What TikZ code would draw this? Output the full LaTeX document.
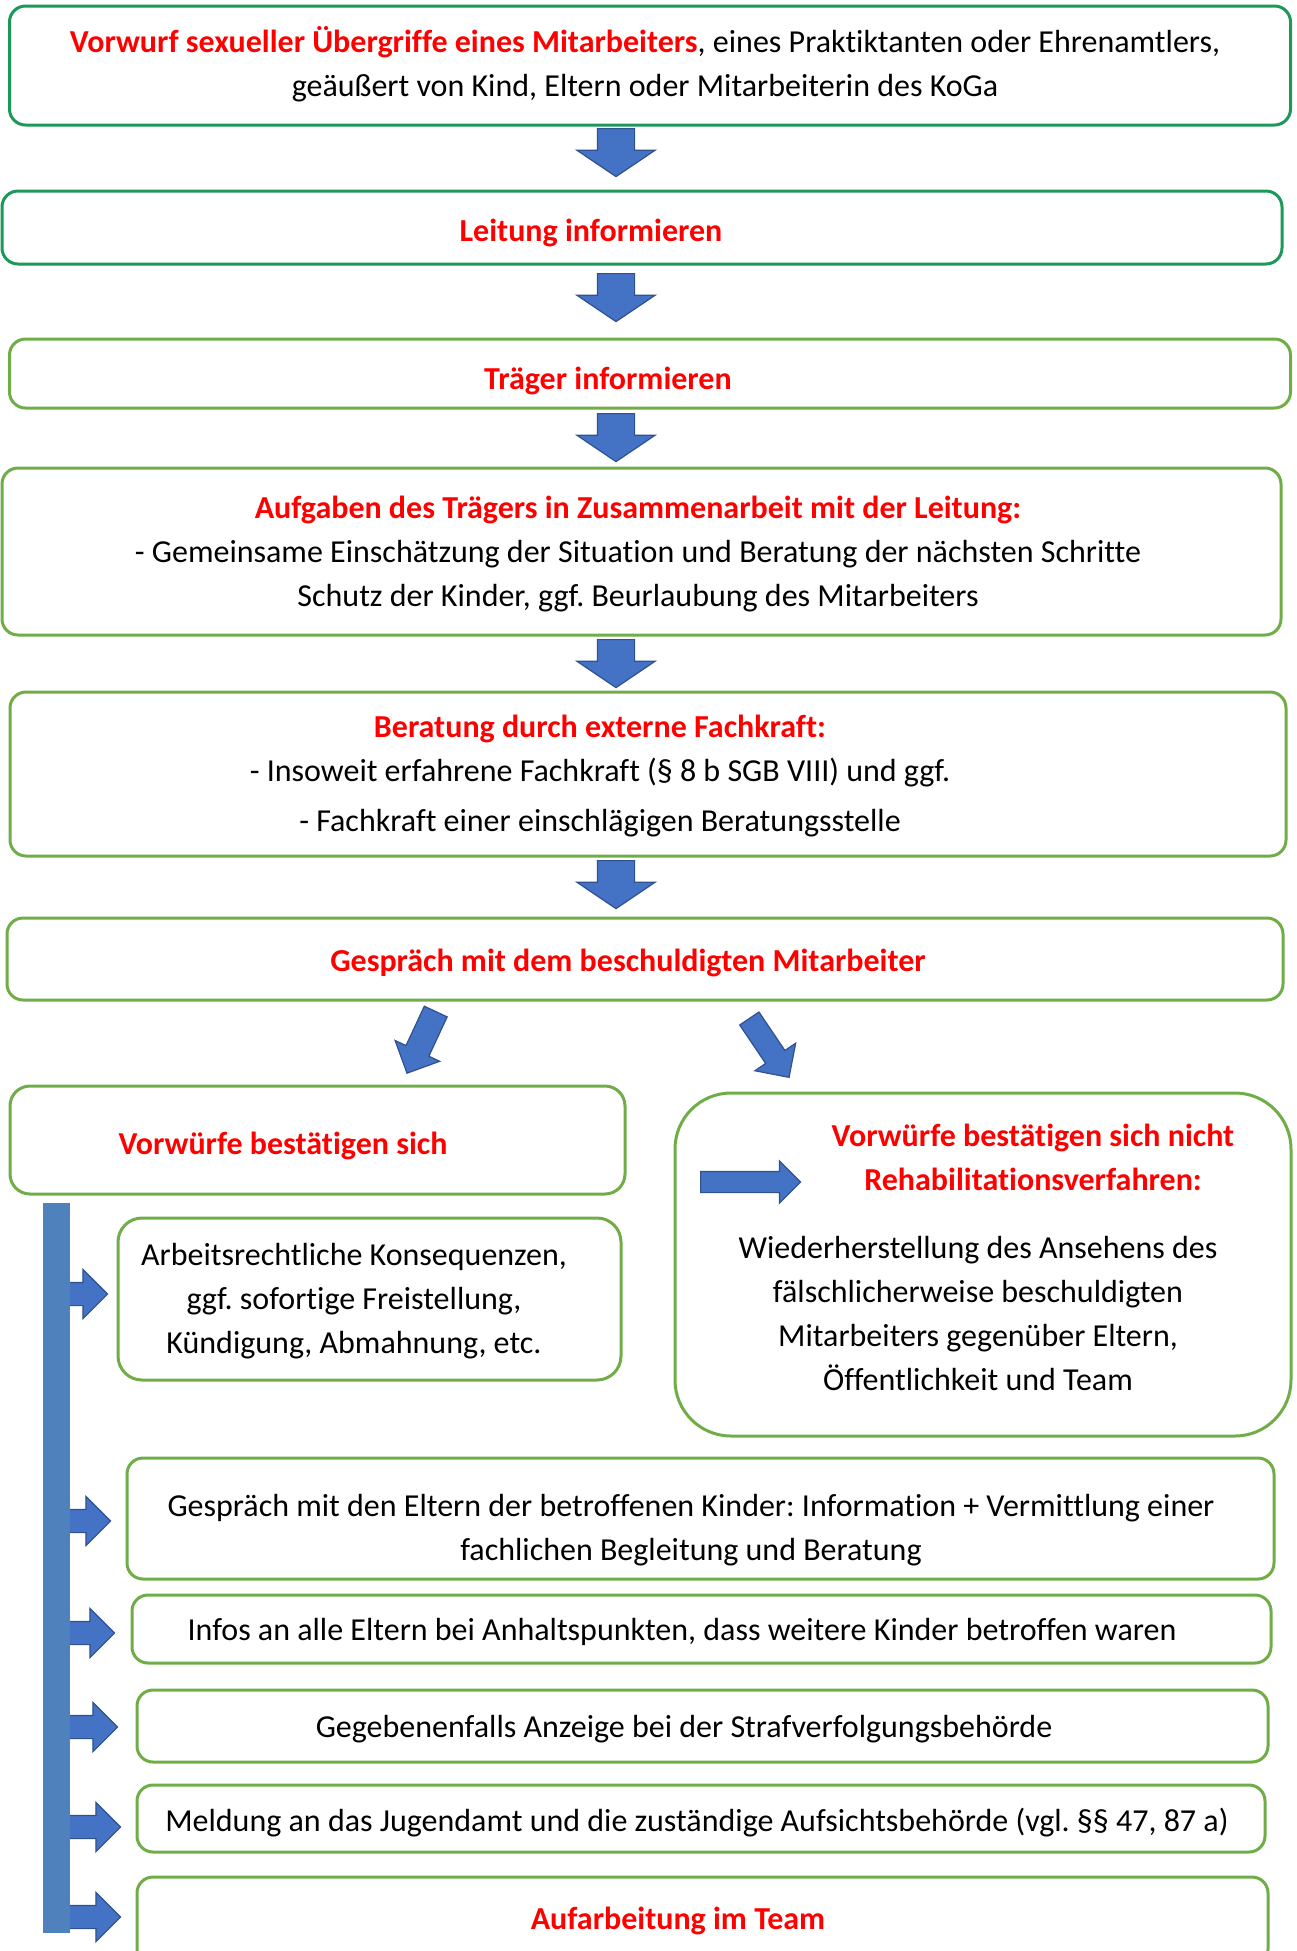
\documentclass[tikz,border=0pt]{standalone}
\usepackage{fontspec}
\setmainfont{Carlito}[Ligatures=NoCommon]
\usepackage{xcolor}
\usetikzlibrary{shapes.arrows}
\frenchspacing

\definecolor{boxteal}{RGB}{28,152,88}
\definecolor{boxgreen}{RGB}{112,173,71}
\definecolor{arrowblue}{RGB}{68,114,196}
\definecolor{arrowedge}{RGB}{47,82,143}
\definecolor{barblue}{RGB}{79,129,189}
\definecolor{headred}{RGB}{255,0,0}
\newcommand{\redtext}[1]{\textcolor{headred}{\textbf{#1}}}

\begin{document}
\begin{tikzpicture}[x=0.5pt, y=-0.5pt]
            \tikzstyle{Box} = [draw=boxgreen, line width=1.5pt, rounded corners=8pt, inner sep=0pt]
            \tikzstyle{Top Box} = [Box, draw=boxteal]
            \tikzstyle{Text} = [align=center, inner sep=0pt, yshift=-2.5pt, font=\fontsize{16}{22}\selectfont]
            \tikzstyle{Block Arrow} = [single arrow, draw=arrowedge, fill=arrowblue, line width=0.6pt, inner xsep=0pt, anchor=tail]
            \tikzstyle{Down Arrow} = [Block Arrow, inner ysep=9pt, minimum height=24pt, single arrow head extend=10.25pt, single arrow tip angle=112, rotate=-90]
            \tikzstyle{Side Arrow} = [Block Arrow, inner ysep=5.5pt, single arrow head extend=6.5pt, single arrow tip angle=90, minimum height=#1]
            \useasboundingbox (0,0) rectangle (1297,1951);
            \fill[white] (0,0) rectangle (1297,1951);
            % main column
            \node[Top Box, minimum width=640.5pt, minimum height=59.5pt] (vorwurf) at (650,65.5) {};
            \node[Text] (vorwurf text) at (645,59) {\redtext{Vorwurf sexueller Übergriffe eines Mitarbeiters}, eines Praktiktanten oder Ehrenamtlers,\\ geäußert von Kind, Eltern oder Mitarbeiterin des KoGa};
            \node[Top Box, minimum width=640pt, minimum height=36.5pt] (leitung) at (642,227.5) {};
            \node[Text] (leitung text) at (591,228) {\redtext{Leitung informieren}};
            \node[Box, minimum width=640.5pt, minimum height=34.5pt] (traeger) at (650,373.5) {};
            \node[Text] (traeger text) at (608,376) {\redtext{Träger informieren}};
            \node[Box, minimum width=639.5pt, minimum height=83.5pt] (aufgaben) at (641.5,551.5) {};
            \node[Text] (aufgaben text) at (638,549) {\redtext{Aufgaben des Trägers in Zusammenarbeit mit der Leitung:}\\ - Gemeinsame Einschätzung der Situation und Beratung der nächsten Schritte\\ Schutz der Kinder, ggf. Beurlaubung des Mitarbeiters};
            \node[Box, minimum width=638pt, minimum height=82pt] (beratung) at (648,774) {};
            \node[Text] (beratung text) at (600,771) {\redtext{Beratung durch externe Fachkraft:}\\ - Insoweit erfahrene Fachkraft (§ 8 b SGB VIII) und ggf.\\[3pt] - Fachkraft einer einschlägigen Beratungsstelle};
            \node[Box, minimum width=638pt, minimum height=41pt] (gespraech) at (645,959) {};
            \node[Text] (gespraech text) at (628,958) {\redtext{Gespräch mit dem beschuldigten Mitarbeiter}};
            \node[Down Arrow] (a1) at (616,128) {};
            \node[Down Arrow] (a2) at (616,273) {};
            \node[Down Arrow] (a3) at (616,413) {};
            \node[Down Arrow] (a4) at (616,639) {};
            \node[Down Arrow] (a5) at (616,860) {};
            % split
            \node[Block Arrow, inner ysep=6pt, minimum height=34pt, single arrow head extend=6pt, single arrow tip angle=90, rotate=245] (ja) at (436,1011) {};
            \node[Block Arrow, inner ysep=5.5pt, minimum height=35.5pt, single arrow head extend=6.5pt, single arrow tip angle=90, rotate=304] (nein) at (749,1018) {};
            \node[Box, rounded corners=10pt, minimum width=307.5pt, minimum height=54pt] (bestaetigt) at (317.5,1140) {};
            \node[Text] (bestaetigt text) at (283,1141) {\redtext{Vorwürfe bestätigen sich}};
            \node[Box, rounded corners=28pt, minimum width=308pt, minimum height=171.5pt] (nicht) at (983,1264.5) {};
            \node[Text] (reha titel) at (1033,1152) {\redtext{Vorwürfe bestätigen sich nicht}\\ \redtext{Rehabilitationsverfahren:}};
            \node[Text] (reha text) at (978,1308) {Wiederherstellung des Ansehens des\\ fälschlicherweise beschuldigten\\ Mitarbeiters gegenüber Eltern,\\ Öffentlichkeit und Team};
            \node[Block Arrow, inner ysep=5pt, minimum height=50pt, single arrow head extend=5.25pt, single arrow tip angle=90] (reha) at (700,1182) {};
            % consequences
            \node[Box, rounded corners=12pt, minimum width=251.5pt, minimum height=81pt] (konsequenz) at (369.5,1299) {};
            \node[Text] (konsequenz text) at (354,1296) {Arbeitsrechtliche Konsequenzen,\\ ggf. sofortige Freistellung,\\ Kündigung, Abmahnung, etc.};
            \node[Box, minimum width=573.5pt, minimum height=60.5pt] (eltern) at (700.5,1518.5) {};
            \node[Text] (eltern text) at (691,1525) {Gespräch mit den Eltern der betroffenen Kinder: Information + Vermittlung einer\\ fachlichen Begleitung und Beratung};
            \node[Box, minimum width=569.5pt, minimum height=34pt] (infos) at (701.5,1629) {};
            \node[Text] (infos text) at (682,1627) {Infos an alle Eltern bei Anhaltspunkten, dass weitere Kinder betroffen waren};
            \node[Box, minimum width=565.5pt, minimum height=36pt] (anzeige) at (702.5,1726) {};
            \node[Text] (anzeige text) at (684,1724) {Gegebenenfalls Anzeige bei der Strafverfolgungsbehörde};
            \node[Box, minimum width=564pt, minimum height=33.5pt] (meldung) at (701,1818.5) {};
            \node[Text] (meldung text) at (697,1818) {Meldung an das Jugendamt und die zuständige Aufsichtsbehörde (vgl. §§ 47, 87 a)};
            \node[Box, minimum width=565.5pt, minimum height=44pt] (aufarbeitung) at (702.5,1921) {};
            \node[Text] (aufarbeitung text) at (678,1916) {\redtext{Aufarbeitung im Team}};
            \node[Side Arrow=32pt] (s1) at (43,1294) {};
            \node[Side Arrow=33.5pt] (s2) at (43,1521) {};
            \node[Side Arrow=35.5pt] (s3) at (43,1633) {};
            \node[Side Arrow=37pt] (s4) at (43,1727) {};
            \node[Side Arrow=38.5pt] (s5) at (43,1827) {};
            \node[Side Arrow=38.5pt] (s6) at (43,1917) {};
            \fill[barblue] (43,1203) rectangle (70,1933);
        \end{tikzpicture}
\end{document}
